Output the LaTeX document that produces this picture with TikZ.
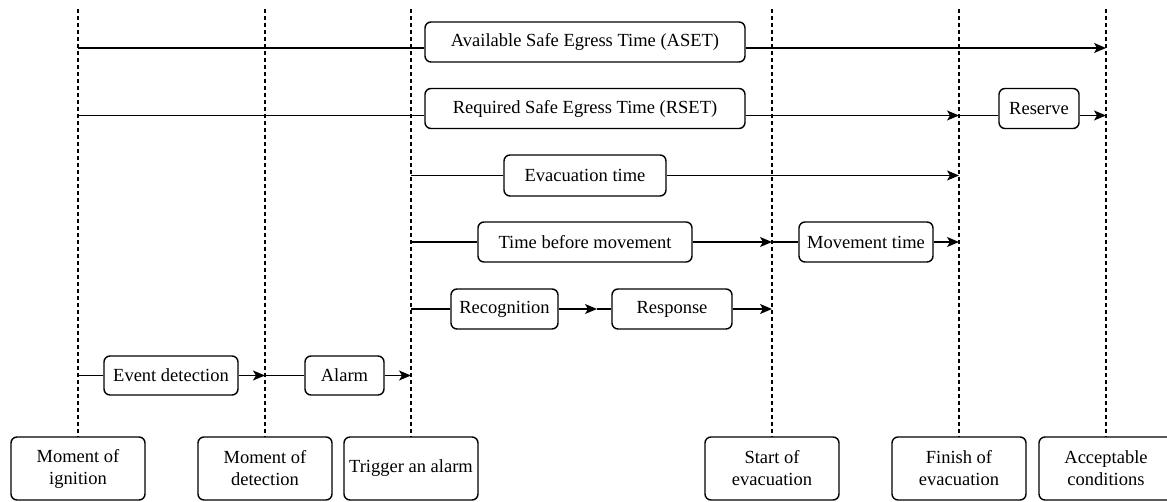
\documentclass[tikz,border=0pt]{standalone}
\usepackage{fontspec}
\setmainfont{Liberation Serif}
\newfontfamily\tnrfont{Liberation Serif}
\usetikzlibrary{arrows.meta}
\begin{document}
\begin{tikzpicture}[x=1pt,y=-1pt,
  box/.style={draw, line width=1.4pt, rounded corners=6pt, inner sep=0pt, font=\tnrfont\fontsize{18.5}{22}\selectfont, align=center},
  guide/.style={line width=1.4pt, dash pattern=on 4pt off 3pt},
  conn/.style={line width=1.4pt},
  arr/.style={conn, -{Stealth[length=12pt,width=10pt,inset=3pt]}}]
\useasboundingbox (0,0) rectangle (1167,502);
% bottom event boxes
\node[box, minimum width=134pt, minimum height=63pt] (ign) at (78,468.5) {Moment of\\ignition};
\node[box, minimum width=134pt, minimum height=63pt] (det) at (265,468.5) {Moment of\\detection};
\node[box, minimum width=134pt, minimum height=63pt] (trg) at (411,468.5) {Trigger an alarm};
\node[box, minimum width=134pt, minimum height=63pt] (sta) at (772,468.5) {Start of\\evacuation};
\node[box, minimum width=134pt, minimum height=63pt] (fin) at (959,468.5) {Finish of\\evacuation};
\node[box, minimum width=134pt, minimum height=63pt] (acc) at (1106,468.5) {Acceptable\\conditions};
% guide line tops
\coordinate (t1) at (78,9);
\coordinate (t2) at (265,9);
\coordinate (t3) at (411,9);
\coordinate (t4) at (772,9);
\coordinate (t5) at (959,9);
\coordinate (t6) at (1106,9);
\draw[guide] (t1) -- (ign.north);
\draw[guide] (t2) -- (det.north);
\draw[guide] (t3) -- (trg.north);
\draw[guide] (t4) -- (sta.north);
\draw[guide] (t5) -- (fin.north);
\draw[guide] (t6) -- (acc.north);
% interval boxes
\node[box, minimum width=320pt, minimum height=40pt] (aset) at (585,42) {Available Safe Egress Time (ASET)};
\node[box, minimum width=320pt, minimum height=40pt] (rset) at (585,108.5) {Required Safe Egress Time (RSET)};
\node[box, minimum width=80pt, minimum height=40pt] (res) at (1039,108.5) {Reserve};
\node[box, minimum width=162pt, minimum height=41pt] (evac) at (585,175.5) {Evacuation time};
\node[box, minimum width=214pt, minimum height=40pt] (tbm) at (585,242) {Time before movement};
\node[box, minimum width=134pt, minimum height=40pt] (mov) at (866,242) {Movement time};
\node[box, minimum width=107pt, minimum height=40pt] (rec) at (504.5,309) {Recognition};
\node[box, minimum width=120pt, minimum height=40pt] (resp) at (672,309) {Response};
\node[box, minimum width=134pt, minimum height=39pt] (evt) at (171,375.5) {Event detection};
\node[box, minimum width=79pt, minimum height=39pt] (alm) at (344.5,375.5) {Alarm};
% row coordinates
\coordinate (a1) at (78,48);
\coordinate (a6) at (1106,48);
\coordinate (b1) at (78,115.5);
\coordinate (b5) at (959,115.5);
\coordinate (b6) at (1106,115.5);
\coordinate (c3) at (411,175.5);
\coordinate (c5) at (959,175.5);
\coordinate (d3) at (411,242);
\coordinate (d4) at (772,242);
\coordinate (d5) at (959,242);
\coordinate (e3) at (411,309);
\coordinate (em) at (597,309);
\coordinate (e4) at (772,309);
\coordinate (f1) at (78,375.5);
\coordinate (f2) at (265,375.5);
\coordinate (f3) at (411,375.5);
% connectors
\draw[conn] (a1) -- (a1 -| aset.west);
\draw[arr] (a1 -| aset.east) -- (a6);
\draw[conn] (b1) -- (b1 -| rset.west);
\draw[arr] (b1 -| rset.east) -- (b5);
\draw[conn] (b5) -- (b5 -| res.west);
\draw[arr] (b5 -| res.east) -- (b6);
\draw[conn] (c3) -- (evac.west);
\draw[arr] (evac.east) -- (c5);
\draw[conn] (d3) -- (tbm.west);
\draw[arr] (tbm.east) -- (d4);
\draw[conn] (d4) -- (mov.west);
\draw[arr] (mov.east) -- (d5);
\draw[conn] (e3) -- (rec.west);
\draw[arr] (rec.east) -- (em);
\draw[conn] (em) -- (resp.west);
\draw[arr] (resp.east) -- (e4);
\draw[conn] (f1) -- (evt.west);
\draw[arr] (evt.east) -- (f2);
\draw[conn] (f2) -- (alm.west);
\draw[arr] (alm.east) -- (f3);
\end{tikzpicture}
\end{document}
